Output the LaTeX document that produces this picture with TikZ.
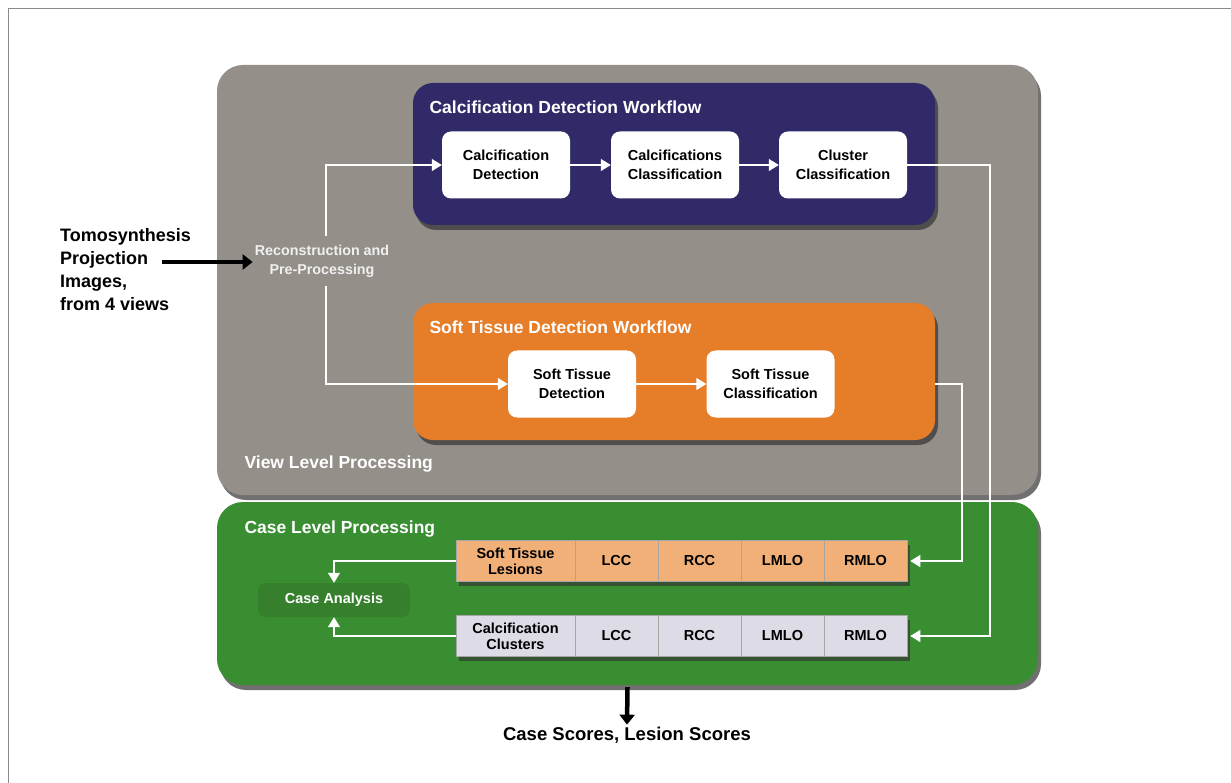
\documentclass[tikz,border=0pt]{standalone}
\usepackage{fontspec}
\setmainfont{Liberation Sans}
\usetikzlibrary{arrows.meta,shadows}

\definecolor{viewgray}{HTML}{958F8A}
\definecolor{casegreen}{HTML}{3A8E32}
\definecolor{anagreen}{HTML}{367F2C}
\definecolor{calcblue}{HTML}{302A68}
\definecolor{softorange}{HTML}{E67E29}
\definecolor{lesioncell}{HTML}{F0B078}
\definecolor{clustcell}{HTML}{DCDBE6}
\definecolor{framegray}{HTML}{8A8A8A}

\tikzset{
  every node/.style={font=\bfseries},
  boxshadow/.style={drop shadow={shadow xshift=3pt,shadow yshift=-5pt,fill=black!80,opacity=.7}},
  panel/.style={rounded corners=26pt, inner sep=0pt, boxshadow},
  workflow/.style={rounded corners=20pt, inner sep=0pt, boxshadow},
  stepbox/.style={fill=white, rounded corners=9pt, minimum width=128pt,
    minimum height=67pt, align=center, font=\bfseries\fontsize{14.5}{19}\selectfont},
  cell/.style={draw=black!35, line width=.6pt, minimum height=41pt,
    align=center, inner sep=0pt, font=\bfseries\fontsize{14.5}{16}\selectfont,
    drop shadow={shadow xshift=3pt,shadow yshift=-4pt,fill=black!80,opacity=.65}},
  title/.style={anchor=west, text=white, font=\bfseries\fontsize{17.5}{20}\selectfont},
  flow/.style={draw=white, line width=1.2pt, -{Triangle[width=12pt,length=10pt]}},
  bigarrow/.style={draw=black, line width=4.5pt, -{Triangle[width=15pt,length=10pt]}}
}

\begin{document}
\begin{tikzpicture}[x=1pt,y=-1pt]
  \useasboundingbox (0,0) rectangle (1231,783);
  \draw[framegray, line width=.8pt] (8,783) -- (8,8) -- (1231,8);

  % processing panels
  \node[panel, fill=viewgray, minimum width=821pt, minimum height=430pt] (view) at (627.5,280) {};
  \node[panel, fill=casegreen, minimum width=821pt, minimum height=183pt] (case) at (627.5,593.5) {};
  \node[title] (viewlbl) at (241,464) {View Level Processing};
  \node[title] (caselbl) at (241,529) {Case Level Processing};

  % workflows
  \node[workflow, fill=calcblue, minimum width=522pt, minimum height=142pt] (calcflow) at (674,154) {};
  \node[workflow, fill=softorange, minimum width=522pt, minimum height=137pt] (softflow) at (674,371.5) {};
  \node[title] (calclbl) at (426,107) {Calcification Detection Workflow};
  \node[title] (softlbl) at (426,327) {Soft Tissue Detection Workflow};

  \node[stepbox] (cd) at (506,165) {Calcification\\Detection};
  \node[stepbox] (cc) at (675,165) {Calcifications\\Classification};
  \node[stepbox] (cl) at (843,165) {Cluster\\Classification};
  \node[stepbox] (std) at (572,384) {Soft Tissue\\Detection};
  \node[stepbox] (stc) at (770.5,384) {Soft Tissue\\Classification};

  % input
  \node[anchor=north west, align=left, inner sep=0pt,
    font=\bfseries\fontsize{18}{23}\selectfont] (input) at (60,228)
    {Tomosynthesis\\Projection\\Images,\\from 4 views};
  \node[align=center, inner ysep=9pt, inner xsep=2pt, text=white!94!black,
    font=\bfseries\fontsize{14.3}{19}\selectfont] (recon) at (322,261)
    {Reconstruction and\\Pre-Processing};
  \coordinate (inarrow) at (162,262);

  % view tables
  \node[cell, fill=lesioncell, minimum width=119pt] (slesion) at (515.5,561) {Soft Tissue\\Lesions};
  \node[cell, fill=clustcell, minimum width=119pt] (cclus) at (515.5,636) {Calcification\\Clusters};
  \foreach \n/\x/\t in {lcc/616.5/LCC, rcc/699.5/RCC, lmlo/782.5/LMLO, rmlo/865.5/RMLO} {
    \node[cell, fill=lesioncell, minimum width=83pt] (s\n) at (\x,561) {\t};
    \node[cell, fill=clustcell, minimum width=83pt] (c\n) at (\x,636) {\t};
  }

  \node[fill=anagreen, rounded corners=8pt, minimum width=152pt, minimum height=34pt,
    text=white, font=\bfseries\fontsize{14.5}{17}\selectfont] (ca) at (334,600) {Case Analysis};

  \node[font=\bfseries\fontsize{18.5}{22}\selectfont, inner sep=2pt] (scores) at (627,735) {Case Scores, Lesion Scores};

  % connectors
  \coordinate (calcbend) at (990,165);
  \coordinate (softbend) at (962,384);
  \draw[flow] ([xshift=4pt]recon.north) |- (cd.west);
  \draw[flow] ([xshift=4pt]recon.south) |- (std.west);
  \foreach \from/\to in {cd/cc, cc/cl, std/stc}
    \draw[flow] (\from) -- (\to);
  \draw[flow] (cl.east) -- (calcbend) |- ([xshift=3pt]crmlo.east);
  \draw[flow] (stc.east -| softflow.east) -- (softbend) |- ([xshift=3pt]srmlo.east);
  \draw[flow] (slesion.west) -| (ca.north);
  \draw[flow] (cclus.west) -| (ca.south);

  \draw[bigarrow] (inarrow) -- (inarrow -| recon.west);
  \draw[bigarrow] ([yshift=-2pt]case.south) -- (scores.north);
\end{tikzpicture}
\end{document}
